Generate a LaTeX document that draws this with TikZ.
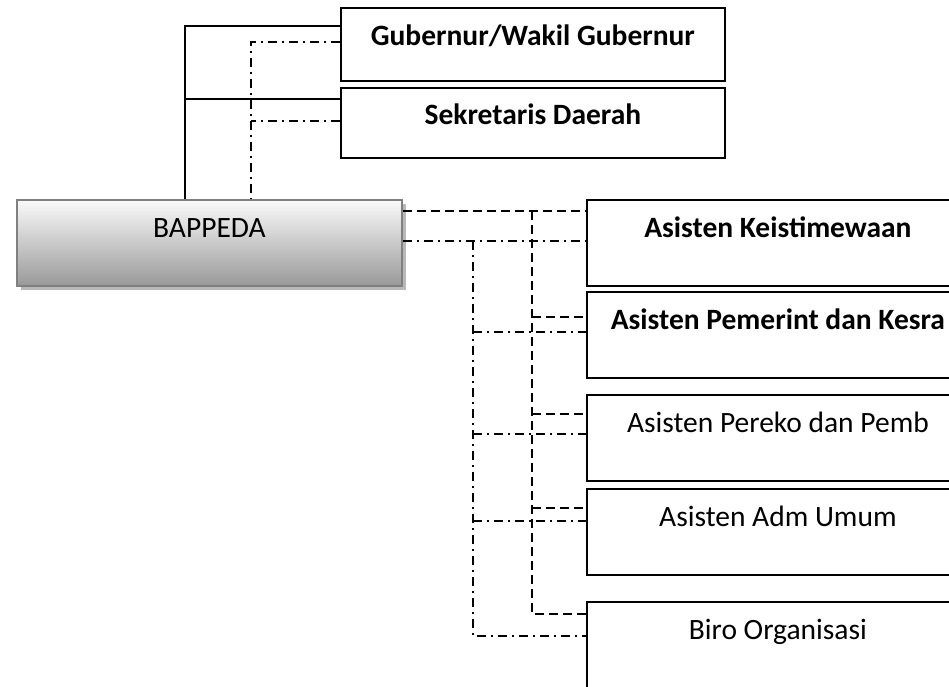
\documentclass[tikz,border=0pt]{standalone}
\usepackage{fontspec}
\setmainfont{Carlito}
\usetikzlibrary{shadows}

\tikzset{
  unitbox/.style={draw=black, line width=1.8pt, fill=white, rectangle, inner sep=0pt,
    anchor=north west, font=\fontsize{29.5}{35}\selectfont},
  tallbox/.style={unitbox, minimum width=382pt, minimum height=86pt,
    text height=37.5pt, text depth=48.5pt},
  headbox/.style={draw=black!50, line width=1.8pt, rectangle, inner sep=0pt,
    anchor=north west, font=\fontsize{29.5}{35}\selectfont,
    minimum width=385pt, minimum height=86pt, text height=38pt, text depth=48pt,
    top color=black!2, bottom color=black!40,
    drop shadow={shadow xshift=4pt, shadow yshift=-4pt, fill=black!28, opacity=1}},
  solidlink/.style={draw=black, line width=1.8pt},
  dashlink/.style={draw=black, line width=1.8pt, dash pattern=on 9pt off 5pt},
  dotdashlink/.style={draw=black, line width=1.8pt, dash pattern=on 9pt off 5pt on 2pt off 5pt},
}

\begin{document}
\begin{tikzpicture}[x=1pt, y=-1pt]
  \useasboundingbox (0,0) rectangle (949,686);
  \clip (0,0) rectangle (949,686);

  % upper offices
  \node[unitbox, minimum width=384pt, minimum height=73pt,
        text height=38pt, text depth=35pt] (gub) at (340,7) {\bfseries Gubernur/Wakil Gubernur};
  \node[unitbox, minimum width=384pt, minimum height=70pt,
        text height=37pt, text depth=33pt] (sek) at (340,87) {\bfseries Sekretaris Daerah};

  % assistants and bureau
  \node[tallbox] (k1) at (586,199) {\bfseries Asisten Keistimewaan};
  \node[tallbox] (k2) at (586,291) {\bfseries Asisten Pemerint dan Kesra};
  \node[tallbox] (k3) at (586,394) {Asisten Pereko dan Pemb};
  \node[tallbox] (k4) at (586,488) {Asisten Adm Umum};
  \node[tallbox, minimum height=90pt, text depth=52.5pt] (k5) at (586,601) {Biro Organisasi};

  % junction points of the connector buses
  \coordinate (sTop) at (185,26);
  \coordinate (sMid) at (185,99);
  \coordinate (dTop) at (251,42);
  \coordinate (dMid) at (251,121);

  \coordinate (a1) at (532,211);
  \coordinate (a2) at (532,317);
  \coordinate (a3) at (532,414);
  \coordinate (a4) at (532,508);
  \coordinate (a5) at (532,614);

  \coordinate (b1) at (473,241);
  \coordinate (b2) at (473,332);
  \coordinate (b3) at (473,434);
  \coordinate (b4) at (473,521);
  \coordinate (b5) at (473,636);

  % BAPPEDA
  \node[headbox] (bap) at (16,199) {BAPPEDA};

  % solid lines up to the governor and the secretary
  \draw[solidlink] (gub.west |- sTop) -- (sTop) -- (sTop |- bap.north);
  \draw[solidlink] (sek.west |- sMid) -- (sMid);

  % dash-dot lines up to the governor and the secretary
  \draw[dotdashlink] (gub.west |- dTop) -- (dTop) -- (dTop |- bap.north);
  \draw[dotdashlink] (sek.west |- dMid) -- (dMid);

  % dashed bus to the assistants
  \draw[dashlink] (bap.east |- a1) -- (k1.west |- a1);
  \draw[dashlink] (a1) -- (a5) -- (k5.west |- a5);
  \draw[dashlink] (a2) -- (k2.west |- a2);
  \draw[dashlink] (a3) -- (k3.west |- a3);
  \draw[dashlink] (a4) -- (k4.west |- a4);

  % dash-dot bus to the assistants
  \draw[dotdashlink] (bap.east |- b1) -- (k1.west |- b1);
  \draw[dotdashlink] (b1) -- (b5) -- (k5.west |- b5);
  \draw[dotdashlink] (b2) -- (k2.west |- b2);
  \draw[dotdashlink] (b3) -- (k3.west |- b3);
  \draw[dotdashlink] (b4) -- (k4.west |- b4);
\end{tikzpicture}
\end{document}
